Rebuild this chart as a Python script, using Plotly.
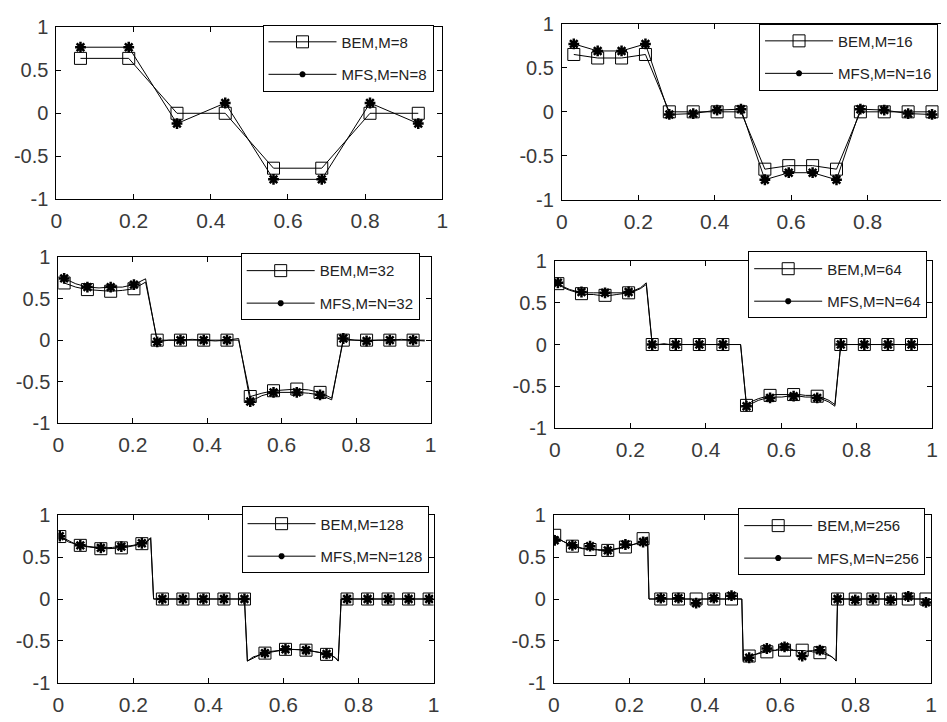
import numpy as np
import plotly.graph_objects as go

# ---- data: boundary values at element midpoints, BEM vs MFS ----
M_LIST = [8, 16, 32, 64, 128, 256]
MARK_STEP = [1, 1, 2, 4, 7, 12]

BEM_8 = [0.64, 0.64, 0.0, 0.0, -0.64, -0.64, 0.0, 0.0]
MFS_8 = [0.77, 0.77, -0.12, 0.12, -0.77, -0.77, 0.12, -0.12]

BEM_16 = [0.65, 0.61, 0.61, 0.65, 0.0, 0.0, 0.0, 0.0,
          -0.65, -0.61, -0.61, -0.65, 0.0, 0.0, 0.0, 0.0]
MFS_16 = [0.77, 0.69, 0.69, 0.77, -0.03, -0.02, 0.02, 0.03,
          -0.77, -0.69, -0.69, -0.77, 0.03, 0.02, -0.02, -0.03]

BEM_32 = [0.69, 0.64, 0.61, 0.60, 0.59, 0.60, 0.62, 0.70,
          0.0, 0.0, 0.0, 0.0, 0.0, 0.0, 0.0, 0.0,
          -0.68, -0.64, -0.61, -0.60, -0.59, -0.60, -0.63, -0.70,
          0.0, 0.0, 0.0, 0.0, 0.0, 0.0, 0.0, 0.0]
MFS_32 = [0.745, 0.68, 0.64, 0.63, 0.64, 0.64, 0.67, 0.74,
          -0.02, 0.00, 0.00, 0.01, 0.00, -0.01, 0.00, 0.02,
          -0.74, -0.67, -0.63, -0.63, -0.63, -0.64, -0.66, -0.72,
          0.02, 0.00, -0.01, 0.00, 0.00, 0.01, 0.00, -0.01]

BEM_64 = [0.73, 0.68, 0.65, 0.63, 0.61, 0.60, 0.60, 0.59,
          0.59, 0.59, 0.60, 0.61, 0.62, 0.64, 0.67, 0.72,
          0.0, 0.0, 0.0, 0.0, 0.0, 0.0, 0.0, 0.0,
          0.0, 0.0, 0.0, 0.0, 0.0, 0.0, 0.0, 0.0,
          -0.73, -0.68, -0.65, -0.63, -0.61, -0.60, -0.60, -0.60,
          -0.60, -0.60, -0.61, -0.61, -0.62, -0.64, -0.67, -0.72,
          0.0, 0.0, 0.0, 0.0, 0.0, 0.0, 0.0, 0.0,
          0.0, 0.0, 0.0, 0.0, 0.0, 0.0, 0.0, 0.0]
MFS_64 = [0.74, 0.69, 0.66, 0.64, 0.63, 0.62, 0.62, 0.62,
          0.62, 0.62, 0.62, 0.62, 0.63, 0.65, 0.68, 0.74,
          0.00, 0.00, 0.01, 0.00, 0.00, 0.00, 0.00, 0.00,
          0.00, 0.00, 0.00, 0.00, 0.00, 0.00, 0.00, 0.00,
          -0.74, -0.70, -0.67, -0.65, -0.64, -0.63, -0.63, -0.62,
          -0.62, -0.62, -0.63, -0.63, -0.64, -0.66, -0.69, -0.74,
          0.00, 0.00, 0.00, 0.00, 0.00, 0.00, 0.00, 0.00,
          0.00, 0.00, 0.00, 0.00, 0.00, 0.00, 0.00, 0.00]

BEM_128 = [0.745, 0.72, 0.70, 0.68, 0.67, 0.66, 0.65, 0.64,
           0.63, 0.625, 0.62, 0.615, 0.61, 0.605, 0.60, 0.60,
           0.60, 0.60, 0.60, 0.605, 0.61, 0.61, 0.615, 0.62,
           0.625, 0.63, 0.64, 0.65, 0.66, 0.67, 0.69, 0.73,
           0.0, 0.0, 0.0, 0.0, 0.0, 0.0, 0.0, 0.0,
           0.0, 0.0, 0.0, 0.0, 0.0, 0.0, 0.0, 0.0,
           0.0, 0.0, 0.0, 0.0, 0.0, 0.0, 0.0, 0.0,
           0.0, 0.0, 0.0, 0.0, 0.0, 0.0, 0.0, 0.0,
           -0.74, -0.71, -0.69, -0.68, -0.665, -0.655, -0.645, -0.64,
           -0.63, -0.625, -0.62, -0.615, -0.61, -0.60, -0.60, -0.60,
           -0.60, -0.60, -0.60, -0.605, -0.61, -0.615, -0.62, -0.625,
           -0.63, -0.64, -0.65, -0.66, -0.67, -0.68, -0.70, -0.74,
           0.0, 0.0, 0.0, 0.0, 0.0, 0.0, 0.0, 0.0,
           0.0, 0.0, 0.0, 0.0, 0.0, 0.0, 0.0, 0.0,
           0.0, 0.0, 0.0, 0.0, 0.0, 0.0, 0.0, 0.0,
           0.0, 0.0, 0.0, 0.0, 0.0, 0.0, 0.0, 0.0]
MFS_128 = [0.75, 0.73, 0.71, 0.69, 0.67, 0.66, 0.65, 0.64,
           0.635, 0.63, 0.625, 0.62, 0.615, 0.61, 0.61, 0.61,
           0.61, 0.61, 0.615, 0.62, 0.62, 0.625, 0.63, 0.63,
           0.635, 0.64, 0.65, 0.655, 0.665, 0.675, 0.695, 0.73,
           0.00, 0.00, 0.00, 0.00, 0.00, 0.00, 0.00, 0.00,
           0.00, 0.00, 0.00, 0.00, 0.00, 0.00, 0.00, 0.00,
           0.00, 0.00, 0.00, 0.00, 0.00, 0.00, 0.00, 0.00,
           0.00, 0.00, 0.00, 0.00, 0.00, 0.00, 0.00, 0.00,
           -0.74, -0.72, -0.70, -0.68, -0.67, -0.66, -0.645, -0.635,
           -0.625, -0.62, -0.615, -0.61, -0.605, -0.60, -0.60, -0.60,
           -0.60, -0.60, -0.605, -0.61, -0.61, -0.615, -0.62, -0.625,
           -0.63, -0.64, -0.645, -0.655, -0.665, -0.68, -0.70, -0.74,
           0.00, 0.00, 0.00, 0.00, 0.00, 0.00, 0.00, 0.00,
           0.00, 0.00, 0.00, 0.00, 0.00, 0.00, 0.00, 0.00,
           0.00, 0.00, 0.00, 0.00, 0.00, 0.00, 0.00, 0.00,
           0.00, 0.00, 0.00, 0.00, 0.00, 0.00, 0.00, 0.00]

BEM_256 = [0.76, 0.745, 0.73, 0.715, 0.705, 0.695, 0.685, 0.675,
           0.665, 0.655, 0.645, 0.64, 0.63, 0.625, 0.62, 0.615,
           0.61, 0.61, 0.605, 0.60, 0.60, 0.595, 0.595, 0.59,
           0.59, 0.59, 0.585, 0.585, 0.585, 0.585, 0.58, 0.58,
           0.58, 0.58, 0.58, 0.58, 0.58, 0.58, 0.585, 0.585,
           0.59, 0.59, 0.595, 0.60, 0.60, 0.605, 0.61, 0.615,
           0.62, 0.625, 0.63, 0.635, 0.64, 0.645, 0.65, 0.66,
           0.665, 0.675, 0.685, 0.70, 0.72, 0.73, 0.735, 0.74,
           0.0, 0.0, 0.0, 0.0, 0.0, 0.0, 0.0, 0.0,
           0.0, 0.0, 0.0, 0.0, 0.0, 0.0, 0.0, 0.0,
           0.0, 0.0, 0.0, 0.0, 0.0, 0.0, 0.0, 0.0,
           0.0, 0.0, 0.0, 0.0, 0.0, 0.0, 0.0, 0.0,
           0.0, 0.0, 0.0, 0.0, 0.0, 0.0, 0.0, 0.0,
           0.0, 0.0, 0.0, 0.0, 0.0, 0.0, 0.0, 0.0,
           0.0, 0.0, 0.0, 0.0, 0.0, 0.0, 0.0, 0.0,
           0.0, 0.0, 0.0, 0.0, 0.0, 0.0, 0.0, 0.0,
           -0.74, -0.72, -0.70, -0.69, -0.68, -0.675, -0.67, -0.665,
           -0.66, -0.655, -0.65, -0.645, -0.64, -0.64, -0.635, -0.635,
           -0.63, -0.625, -0.62, -0.62, -0.615, -0.615, -0.61, -0.61,
           -0.61, -0.61, -0.61, -0.61, -0.61, -0.61, -0.61, -0.61,
           -0.61, -0.61, -0.61, -0.61, -0.61, -0.61, -0.61, -0.61,
           -0.61, -0.615, -0.615, -0.62, -0.62, -0.625, -0.625, -0.63,
           -0.63, -0.635, -0.635, -0.64, -0.64, -0.645, -0.65, -0.655,
           -0.66, -0.665, -0.67, -0.68, -0.69, -0.70, -0.72, -0.74,
           0.0, 0.0, 0.0, 0.0, 0.0, 0.0, 0.0, 0.0,
           0.0, 0.0, 0.0, 0.0, 0.0, 0.0, 0.0, 0.0,
           0.0, 0.0, 0.0, 0.0, 0.0, 0.0, 0.0, 0.0,
           0.0, 0.0, 0.0, 0.0, 0.0, 0.0, 0.0, 0.0,
           0.0, 0.0, 0.0, 0.0, 0.0, 0.0, 0.0, 0.0,
           0.0, 0.0, 0.0, 0.0, 0.0, 0.0, 0.0, 0.0,
           0.0, 0.0, 0.0, 0.0, 0.0, 0.0, 0.0, 0.0,
           0.0, 0.0, 0.0, 0.0, 0.0, 0.0, 0.0, 0.0]
MFS_256 = [0.70, 0.72, 0.72, 0.71, 0.70, 0.69, 0.68, 0.675,
           0.665, 0.66, 0.65, 0.645, 0.64, 0.63, 0.625, 0.62,
           0.615, 0.61, 0.61, 0.605, 0.60, 0.60, 0.60, 0.61,
           0.63, 0.61, 0.60, 0.595, 0.59, 0.59, 0.59, 0.585,
           0.585, 0.585, 0.58, 0.58, 0.58, 0.585, 0.59, 0.59,
           0.595, 0.60, 0.60, 0.605, 0.61, 0.615, 0.62, 0.63,
           0.65, 0.635, 0.635, 0.64, 0.645, 0.65, 0.655, 0.66,
           0.665, 0.67, 0.675, 0.68, 0.68, 0.70, 0.72, 0.74,
           0.00, 0.00, 0.00, 0.00, 0.00, 0.00, 0.00, 0.00,
           0.01, 0.00, 0.00, 0.00, 0.00, 0.00, 0.00, 0.00,
           0.00, 0.00, 0.00, 0.00, 0.01, 0.00, 0.00, 0.00,
           0.00, 0.00, 0.00, 0.00, 0.00, 0.00, -0.01, -0.02,
           -0.05, -0.02, -0.01, 0.00, 0.00, 0.00, 0.00, 0.00,
           0.00, 0.00, 0.00, 0.00, 0.01, 0.00, 0.00, 0.00,
           0.00, 0.00, 0.00, 0.00, 0.00, 0.00, 0.01, 0.02,
           0.04, 0.02, 0.01, 0.00, 0.00, 0.00, 0.00, 0.00,
           -0.73, -0.72, -0.71, -0.70, -0.70, -0.69, -0.68, -0.67,
           -0.66, -0.655, -0.65, -0.64, -0.63, -0.62, -0.61, -0.60,
           -0.59, -0.60, -0.605, -0.61, -0.61, -0.61, -0.61, -0.60,
           -0.60, -0.59, -0.58, -0.575, -0.57, -0.575, -0.58, -0.59,
           -0.60, -0.60, -0.61, -0.61, -0.62, -0.63, -0.65, -0.66,
           -0.68, -0.66, -0.64, -0.63, -0.62, -0.62, -0.615, -0.615,
           -0.61, -0.61, -0.61, -0.61, -0.61, -0.615, -0.62, -0.63,
           -0.64, -0.65, -0.66, -0.67, -0.68, -0.70, -0.72, -0.74,
           0.00, 0.00, 0.00, 0.00, 0.00, 0.00, 0.00, 0.00,
           0.00, 0.00, 0.00, 0.00, -0.01, 0.00, 0.00, 0.00,
           0.00, 0.00, 0.00, 0.00, 0.00, 0.00, 0.00, 0.00,
           0.00, 0.00, 0.00, 0.00, 0.00, 0.00, 0.00, 0.00,
           0.00, 0.00, 0.00, 0.00, -0.01, 0.00, 0.00, 0.00,
           0.00, 0.00, 0.00, 0.00, 0.00, 0.00, 0.01, 0.02,
           0.03, 0.02, 0.01, 0.00, 0.00, 0.00, 0.00, 0.00,
           0.00, 0.00, -0.01, -0.02, -0.04, -0.02, -0.01, 0.00]

BEM_SERIES = [BEM_8, BEM_16, BEM_32, BEM_64, BEM_128, BEM_256]
MFS_SERIES = [MFS_8, MFS_16, MFS_32, MFS_64, MFS_128, MFS_256]

X_TICKS = [0, 0.2, 0.4, 0.6, 0.8, 1]
X_TICK_TEXT = ["0", "0.2", "0.4", "0.6", "0.8", "1"]
Y_TICKS = [-1, -0.5, 0, 0.5, 1]
Y_TICK_TEXT = ["-1", "-0.5", "0", "0.5", "1"]

# ---- page geometry (pixels) ----
W, H = 947, 722
# plot boxes: left, right, top, bottom
BOXES = [(51, 442, 17, 194), (563, 950, 13, 195),
         (53, 430, 254, 425), (556, 938, 258, 430),
         (53, 433, 520, 693), (555, 937, 520, 693)]
# legend anchor: right edge, top edge
LEG_POS = [(433, 14), (944, 13), (419, 250), (933, 248), (428, 511), (931, 513)]

X_TICK_FONT = dict(family="Liberation Sans, Arial, sans-serif", size=21, color="#3a3a3a")
Y_TICK_FONT = dict(family="Liberation Sans, Arial, sans-serif", size=20, color="#3a3a3a")
LEG_FONT = dict(family="Liberation Sans, Arial, sans-serif", size=15, color="#222222")

fig = go.Figure()
layout_axes = {}

for i, (M, step) in enumerate(zip(M_LIST, MARK_STEP)):
    n = i + 1
    xa = "x" if n == 1 else f"x{n}"
    ya = "y" if n == 1 else f"y{n}"
    leg = "legend" if n == 1 else f"legend{n}"
    x = (np.arange(M) + 0.5) / M
    bem = np.array(BEM_SERIES[i])
    mfs = np.array(MFS_SERIES[i])
    mk = np.arange(0, M, step)

    line = dict(color="black", width=1)
    sq = dict(symbol="square-open", size=12, color="black", line=dict(width=1, color="black"))
    st = dict(symbol="asterisk-open", size=9, color="black", line=dict(width=2.5, color="black"))

    # lines through every element value
    fig.add_trace(go.Scatter(x=x, y=bem, mode="lines", line=line, xaxis=xa, yaxis=ya,
                             showlegend=False, hoverinfo="skip"))
    fig.add_trace(go.Scatter(x=x, y=mfs, mode="lines", line=line, xaxis=xa, yaxis=ya,
                             showlegend=False, hoverinfo="skip"))
    # markers on a subset of elements
    fig.add_trace(go.Scatter(x=x[mk], y=bem[mk], mode="markers", marker=sq,
                             xaxis=xa, yaxis=ya, showlegend=False))
    fig.add_trace(go.Scatter(x=x[mk], y=mfs[mk], mode="markers", marker=st,
                             xaxis=xa, yaxis=ya, showlegend=False))
    # legend entries
    fig.add_trace(go.Scatter(x=[None], y=[None], mode="lines+markers", line=line, marker=sq,
                             name=f"BEM,M={M}", legend=leg, legendgroup=f"b{n}",
                             xaxis=xa, yaxis=ya))
    fig.add_trace(go.Scatter(x=[None], y=[None], mode="lines+markers", line=line,
                             marker=dict(symbol="asterisk-open", size=5, color="black",
                                         line=dict(width=2, color="black")),
                             name=f"MFS,M=N={M}", legend=leg, legendgroup=f"m{n}",
                             xaxis=xa, yaxis=ya))

    l, r, t, b = BOXES[i]
    right_frac = min(r / W, 1.0)
    xmax = 1.0 if r <= W else (W - l) / (r - l)
    layout_axes["xaxis" if n == 1 else f"xaxis{n}"] = dict(
        domain=[l / W, right_frac], range=[0, xmax], tickvals=X_TICKS, ticktext=X_TICK_TEXT,
        ticks="inside", ticklen=5, tickcolor="black", showline=True, linecolor="black",
        linewidth=1, mirror="ticks", showgrid=False, zeroline=False, tickfont=X_TICK_FONT,
        anchor=ya, ticklabelstandoff=3)
    layout_axes["yaxis" if n == 1 else f"yaxis{n}"] = dict(
        domain=[1 - b / H, 1 - t / H], range=[-1, 1], tickvals=Y_TICKS, ticktext=Y_TICK_TEXT,
        ticks="inside", ticklen=5, tickcolor="black", showline=True, linecolor="black",
        linewidth=1, mirror=("ticks" if r <= W else False), showgrid=False, zeroline=False,
        tickfont=Y_TICK_FONT, anchor=xa, ticklabelstandoff=3)
    lx, ly = LEG_POS[i]
    layout_axes[leg] = dict(x=lx / W, y=1 - ly / H, xanchor="right", yanchor="top",
                            bgcolor="white", bordercolor="black", borderwidth=1,
                            font=LEG_FONT, tracegroupgap=10, itemwidth=68)

fig.update_layout(width=W, height=H, margin=dict(l=0, r=0, t=0, b=0),
                  paper_bgcolor="white", plot_bgcolor="white", **layout_axes)
fig.write_html("out.html")
